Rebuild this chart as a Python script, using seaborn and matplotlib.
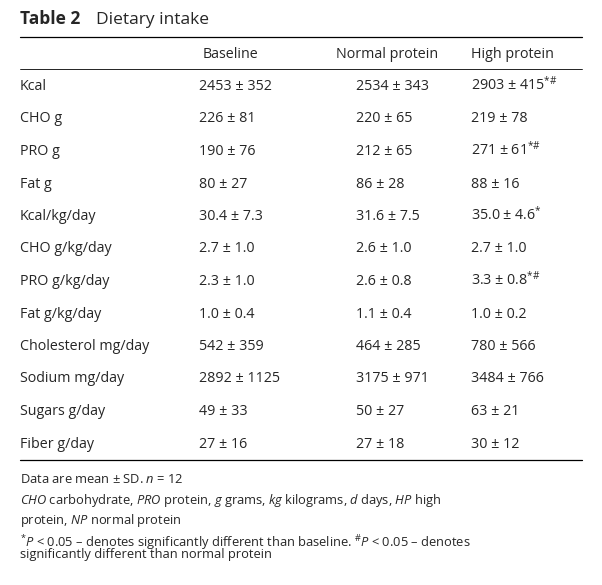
import matplotlib
matplotlib.use('Agg')
import matplotlib.pyplot as plt
import seaborn as sns

sns.set_theme(style='white')
plt.rcParams['font.family'] = ['Open Sans', 'DejaVu Sans']
plt.rcParams['mathtext.fontset'] = 'custom'
plt.rcParams['mathtext.rm'] = 'Open Sans'
plt.rcParams['mathtext.it'] = 'Open Sans:italic'
plt.rcParams['mathtext.default'] = 'rm'

# table content
columns = ['Baseline', 'Normal protein', 'High protein']
rows = ['Kcal', 'CHO g', 'PRO g', 'Fat g', 'Kcal/kg/day', 'CHO g/kg/day',
        'PRO g/kg/day', 'Fat g/kg/day', 'Cholesterol mg/day', 'Sodium mg/day',
        'Sugars g/day', 'Fiber g/day']
baseline = ['2453 ± 352', '226 ± 81', '190 ± 76', '80 ± 27', '30.4 ± 7.3', '2.7 ± 1.0',
            '2.3 ± 1.0', '1.0 ± 0.4', '542 ± 359', '2892 ± 1125', '49 ± 33', '27 ± 16']
normal = ['2534 ± 343', '220 ± 65', '212 ± 65', '86 ± 28', '31.6 ± 7.5', '2.6 ± 1.0',
          '2.6 ± 0.8', '1.1 ± 0.4', '464 ± 285', '3175 ± 971', '50 ± 27', '27 ± 18']
high = ['2903 ± 415', '219 ± 78', '271 ± 61', '88 ± 16', '35.0 ± 4.6', '2.7 ± 1.0',
        '3.3 ± 0.8', '1.0 ± 0.2', '780 ± 566', '3484 ± 766', '63 ± 21', '30 ± 12']
high_marks = ['*#', '', '*#', '', '*', '', '*#', '', '', '', '', '']

W, H = 602, 585
fig = plt.figure(figsize=(W / 100, H / 100), dpi=100)
ax = fig.add_axes([0, 0, 1, 1])
ax.set_xlim(0, W)
ax.set_ylim(H, 0)
ax.axis('off')

fs = 10.3
ax.text(20, 24, 'Table 2', fontsize=12.5, fontweight='bold', va='baseline')
ax.text(96, 24, 'Dietary intake', fontsize=12.5, va='baseline')

ax.plot([20, 582], [37, 37], color='black', lw=0.9)
ax.plot([20, 582], [69, 69], color='black', lw=0.6)
ax.plot([20, 582], [460, 460], color='black', lw=0.9)

ax.text(231, 58, columns[0], fontsize=fs, va='baseline', ha='center')
ax.text(387, 58, columns[1], fontsize=fs, va='baseline', ha='center')
ax.text(471, 58, columns[2], fontsize=fs, va='baseline', ha='left')

val_x = [199, 356, 471]
for i, r in enumerate(rows):
    y = 90 + i * 32.5
    ax.text(20, y, r, fontsize=fs, va='baseline')
    ax.text(val_x[0], y, baseline[i], fontsize=fs, va='baseline')
    ax.text(val_x[1], y, normal[i], fontsize=fs, va='baseline')
    s = high[i]
    if high_marks[i]:
        s += '$^{' + high_marks[i].replace('#', r'\#') + '}$'
    ax.text(val_x[2], y, s, fontsize=fs, va='baseline')

fn = 9.3
ax.text(20, 483, r'Data are mean ± SD. $\it{n}$ = 12', fontsize=fn, va='baseline')
ax.text(20, 504, r'$\it{CHO}$ carbohydrate, $\it{PRO}$ protein, $\it{g}$ grams, $\it{kg}$ kilograms, '
        r'$\it{d}$ days, $\it{HP}$ high', fontsize=fn, va='baseline')
ax.text(20, 524, r'protein, $\it{NP}$ normal protein', fontsize=fn, va='baseline')
ax.text(20, 547, r'$^{*}\it{P}$ < 0.05 – denotes significantly different than baseline. '
        r'$^{\#}\it{P}$ < 0.05 – denotes', fontsize=fn, va='baseline')
ax.text(20, 558, 'significantly different than normal protein', fontsize=fn, va='baseline')

fig.savefig('out.png', dpi=100, facecolor='white')
